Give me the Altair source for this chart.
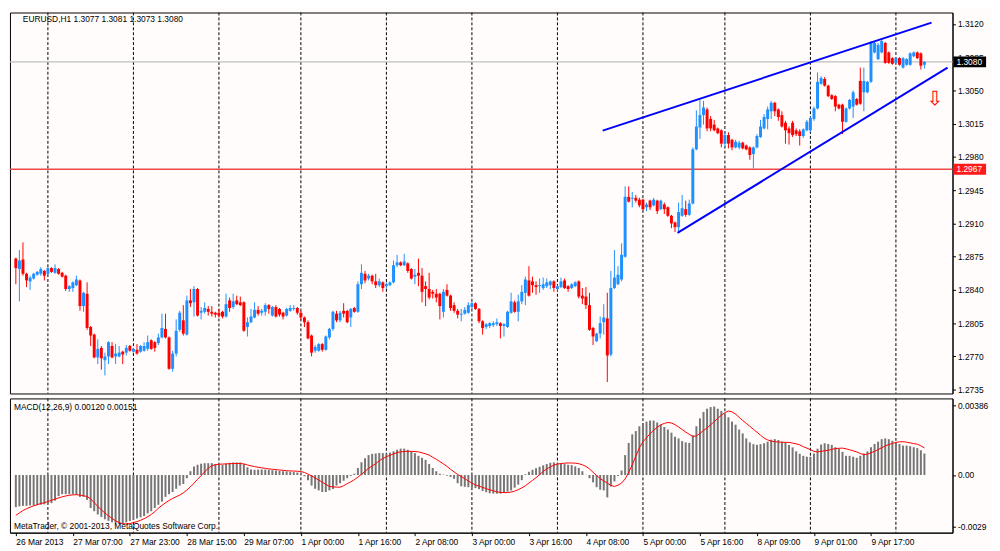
import altair as alt
import pandas as pd

# ---------------- data (EURUSD H1, prices in pips = 1e-4) ----------------
open_pips = [
12873,12862,12872,12857,12849,12852,12856,12857,12860,12857,
12863,12858,12862,12858,12855,12841,12842,12845,12850,12823,
12836,12801,12793,12769,12779,12766,12770,12781,12770,12770,
12775,12774,12781,12775,12777,12775,12776,12778,12787,12785,
12784,12790,12799,12790,12757,12773,12798,12808,12793,12829,
12827,12841,12816,12817,12820,12817,12816,12816,12817,12812,
12829,12822,12829,12827,12827,12801,12806,12811,12819,12816,
12817,12824,12813,12822,12820,12816,12813,12818,12820,12821,
12816,12811,12806,12792,12776,12776,12783,12777,12790,12799,
12815,12808,12818,12818,12811,12821,12817,12846,12857,12852,
12855,12849,12845,12848,12844,12845,12848,12866,12869,12866,
12868,12862,12854,12858,12855,12844,12841,12838,12836,12836,
12817,12840,12834,12824,12818,12814,12815,12816,12822,12826,
12820,12807,12801,12802,12803,12804,12805,12802,12801,12816,
12827,12817,12828,12837,12850,12849,12845,12844,12842,12844,
12845,12849,12841,12843,12850,12844,12842,12844,12849,12834,
12833,12824,12800,12786,12794,12806,12810,12772,12842,12846,
12851,12875,12938,12936,12937,12935,12935,12927,12934,12929,
12934,12925,12930,12927,12918,12911,12906,12918,12925,12919,
12931,12988,13011,13024,13030,13020,13014,13010,13008,12994,
13003,12998,12990,12990,12995,12992,12990,12983,12990,13001,
13010,13020,13028,13037,13030,13024,13016,13010,13016,13008,
13007,13002,13008,13008,13020,13031,13057,13062,13055,13045,
13044,13035,13035,13017,13031,13033,13041,13060,13048,13048,
13059,13090,13083,13090,13100,13090,13084,13079,13084,13074,
13077,13077,13086,13090,13089,13077]
high_pips = [
12874,12882,12890,12858,12855,12858,12860,12864,12861,12864,
12864,12867,12863,12859,12856,12845,12849,12855,12851,12838,
12848,12802,12794,12788,12781,12774,12786,12785,12783,12781,
12776,12782,12782,12779,12783,12782,12785,12792,12788,12786,
12794,12815,12815,12791,12776,12809,12818,12824,12834,12841,
12844,12842,12822,12827,12823,12823,12817,12820,12818,12836,
12832,12836,12834,12833,12828,12811,12820,12827,12823,12820,
12826,12825,12823,12824,12821,12817,12821,12824,12824,12822,
12818,12812,12808,12793,12782,12784,12784,12792,12800,12818,
12818,12818,12826,12819,12821,12822,12849,12867,12860,12857,
12856,12857,12852,12849,12848,12849,12871,12877,12870,12878,
12869,12863,12862,12873,12863,12849,12858,12840,12841,12837,
12841,12846,12835,12827,12820,12820,12822,12827,12828,12827,
12821,12808,12805,12806,12807,12810,12806,12805,12818,12837,
12829,12835,12845,12854,12865,12854,12849,12852,12853,12852,
12850,12850,12845,12853,12852,12845,12847,12849,12850,12842,
12843,12837,12801,12795,12812,12825,12837,12860,12882,12865,
12889,12949,12949,12943,12940,12937,12936,12932,12935,12937,
12935,12935,12932,12928,12919,12912,12932,12940,12934,12935,
12990,13029,13040,13039,13032,13023,13019,13011,13009,13007,
13006,12999,12998,12997,12996,12993,12991,12991,13004,13019,
13025,13033,13039,13038,13031,13028,13018,13012,13018,13010,
13009,13010,13019,13022,13033,13069,13065,13064,13056,13046,
13045,13036,13036,13032,13041,13050,13042,13074,13074,13060,
13102,13101,13100,13104,13101,13091,13085,13085,13085,13085,
13084,13090,13091,13091,13090,13081]
low_pips = [
12846,12828,12855,12843,12840,12851,12855,12855,12850,12856,
12858,12857,12856,12853,12839,12838,12838,12844,12818,12817,
12798,12781,12768,12762,12756,12750,12762,12768,12762,12769,
12762,12771,12775,12774,12772,12774,12775,12776,12777,12775,
12782,12789,12789,12756,12754,12770,12796,12792,12792,12822,
12812,12812,12809,12815,12813,12812,12811,12811,12810,12811,
12817,12820,12824,12823,12796,12791,12805,12810,12813,12813,
12813,12815,12812,12811,12812,12809,12812,12817,12818,12814,
12808,12801,12788,12770,12774,12775,12775,12776,12788,12797,
12806,12806,12811,12805,12801,12816,12816,12841,12847,12850,
12846,12842,12843,12838,12841,12844,12847,12864,12865,12865,
12858,12851,12846,12844,12827,12823,12830,12831,12827,12809,
12811,12833,12818,12816,12810,12807,12814,12815,12820,12819,
12805,12793,12799,12800,12801,12802,12789,12791,12800,12815,
12816,12807,12825,12824,12833,12837,12835,12837,12840,12842,
12841,12838,12839,12842,12841,12838,12841,12843,12831,12825,
12820,12797,12782,12785,12789,12793,12743,12770,12841,12845,
12849,12874,12932,12927,12932,12927,12924,12923,12924,12928,
12920,12924,12920,12917,12905,12901,12901,12917,12917,12918,
12930,12987,12999,13014,13007,13007,13007,13004,12990,12990,
12989,12987,12989,12988,12988,12987,12977,12968,12989,13000,
13009,13009,13020,13023,13018,13011,12994,12993,13001,13002,
12992,13000,13007,13006,13018,13030,13056,13054,13043,13040,
13028,13030,13004,13016,13030,13021,13034,13035,13028,13047,
13058,13089,13082,13089,13078,13078,13077,13078,13076,13073,
13076,13076,13085,13083,13072,13073]
close_pips = [
12863,12871,12857,12850,12853,12857,12859,12862,12855,12863,
12859,12863,12857,12854,12841,12844,12848,12851,12823,12837,
12800,12792,12769,12778,12768,12770,12785,12769,12773,12774,
12772,12779,12776,12778,12773,12781,12781,12785,12778,12779,
12790,12800,12790,12757,12773,12797,12816,12794,12829,12826,
12841,12813,12818,12821,12817,12815,12814,12813,12812,12825,
12821,12828,12825,12824,12797,12806,12812,12819,12815,12818,
12824,12820,12822,12812,12814,12812,12820,12821,12821,12816,
12811,12806,12789,12774,12780,12783,12777,12791,12799,12817,
12808,12816,12815,12806,12820,12817,12846,12858,12850,12855,
12849,12845,12849,12842,12846,12848,12866,12869,12866,12870,
12860,12852,12856,12855,12838,12841,12832,12836,12832,12823,
12838,12834,12821,12818,12814,12815,12819,12824,12826,12820,
12807,12800,12804,12805,12805,12806,12802,12804,12817,12828,
12817,12828,12838,12851,12834,12845,12843,12845,12846,12848,
12849,12842,12844,12849,12842,12841,12846,12848,12833,12831,
12824,12798,12791,12794,12805,12811,12771,12842,12853,12856,
12877,12938,12933,12937,12934,12929,12925,12930,12927,12935,
12923,12934,12925,12918,12910,12906,12922,12926,12919,12931,
12988,13012,13024,13032,13010,13010,13008,13005,12994,13003,
12994,12990,12996,12995,12989,12988,12982,12990,13002,13012,
13022,13030,13037,13028,13022,13012,13008,13005,13003,13004,
13002,13009,13017,13021,13031,13059,13063,13055,13044,13041,
13033,13031,13017,13031,13040,13048,13035,13036,13060,13059,
13100,13100,13098,13102,13079,13079,13078,13084,13077,13084,
13083,13089,13090,13084,13076,13080]

# MACD(12,26,9) in points (1e-5)
macd_main_pts = [
-179,-175,-172,-172,-170,-170,-168,-166,-164,-163,
-157,-143,-118,-107,-107,-107,-107,-111,-122,-122,
-139,-184,-202,-220,-234,-247,-256,-264,-270,-273,
-273,-264,-257,-250,-243,-236,-229,-214,-202,-184,
-166,-148,-122,-107,-95,-77,-59,-50,-18,21,
48,57,63,66,66,66,61,57,57,63,
68,70,70,70,61,43,30,29,30,30,
30,29,27,25,23,21,20,18,16,14,
11,-7,-29,-59,-77,-86,-95,-95,-86,-78,
-59,-46,-32,-18,-5,7,39,71,93,111,
118,120,123,122,120,125,132,141,147,147,
141,132,122,107,96,84,61,39,21,7,
2,-4,-11,-21,-46,-63,-66,-68,-70,-73,
-79,-89,-96,-102,-104,-104,-104,-100,-93,-86,
-71,-54,-29,4,18,29,38,46,54,61,
68,70,66,61,61,57,55,48,39,21,
1,-18,-41,-68,-82,-86,-125,-64,-36,-5,
25,111,179,227,245,272,290,298,304,304,
293,281,268,254,236,214,204,189,182,179,
222,272,316,352,370,379,382,370,357,340,
322,298,281,254,232,204,182,172,168,172,
177,186,197,200,195,186,182,168,154,132,
118,107,102,102,120,147,170,177,173,168,
155,147,129,107,107,102,96,107,120,132,
155,173,186,200,204,200,191,182,173,164,
164,161,155,150,138,120]
macd_signal_pts = [
-225,-212,-198,-188,-180,-172,-166,-159,-155,-148,
-141,-135,-128,-122,-117,-113,-111,-110,-112,-116,
-120,-133,-155,-175,-195,-212,-228,-242,-256,-266,
-272,-273,-271,-266,-260,-253,-244,-233,-220,-205,
-185,-170,-155,-142,-131,-121,-112,-100,-84,-66,
-46,-24,-4,18,38,52,57,60,61,62,
63,64,64,64,62,56,51,47,43,40,
37,34,32,30,28,26,24,23,22,21,
19,14,5,-5,-17,-28,-40,-52,-64,-66,
-68,-68,-60,-48,-38,-26,-12,4,20,38,
50,63,80,92,102,110,118,125,129,131,
132,132,131,129,124,118,111,99,88,75,
62,48,32,17,3,-9,-20,-34,-45,-56,
-62,-69,-76,-83,-88,-94,-97,-98,-98,-95,
-90,-82,-72,-60,-45,-30,-15,2,20,34,
45,55,61,64,66,67,67,66,63,57,
48,34,15,-3,-20,-33,-45,-58,-64,-57,
-45,-22,15,57,105,152,185,208,230,250,
266,280,288,293,290,281,268,254,240,227,
215,218,232,248,263,280,298,316,334,348,
357,352,340,322,304,288,272,255,239,222,
206,196,189,186,184,183,182,182,178,174,
168,158,150,141,132,129,132,135,138,143,
147,149,150,146,141,135,129,120,114,116,
124,132,142,152,162,170,176,182,185,186,
183,179,175,172,163,151]

tick_index = [0, 16, 32, 48, 64, 80, 96, 112, 128, 144, 160, 176, 192, 208, 224, 240]
tick_labels = ["26 Mar 2013", "27 Mar 07:00", "27 Mar 23:00", "28 Mar 15:00",
               "29 Mar 07:00", "1 Apr 00:00", "1 Apr 16:00", "2 Apr 08:00",
               "3 Apr 00:00", "3 Apr 16:00", "4 Apr 08:00", "5 Apr 00:00",
               "5 Apr 16:00", "8 Apr 09:00", "9 Apr 01:00", "9 Apr 17:00"]
day_grid_index = [9, 33, 57, 80, 104, 128, 152, 176, 199, 223, 247]
price_ticks = [1.3120, 1.3085, 1.3050, 1.3015, 1.2980, 1.2945, 1.2910,
               1.2875, 1.2840, 1.2805, 1.2770, 1.2735]
macd_ticks = [0.00386, 0.0, -0.0029]
macd_tick_labels = ["0.00386", "0.00", "-0.0029"]
bid_price = 1.3080
level_price = 1.2967
trend_id = ["upper", "upper", "lower", "lower"]
trend_i = [164.7, 257.0, 185.7, 261.5]
trend_p = [1.30077, 1.31213, 1.29000, 1.30740]
arrow_i = [257.9]
arrow_p = [1.30407]

assert len(open_pips) == len(high_pips) == len(low_pips) == len(close_pips) == 256
assert len(macd_main_pts) == 256 and len(macd_signal_pts) == 256

# ---------------- layout / style ----------------
FONT = "Liberation Sans"
FS = 8.5
BG = "#FFFCFB"
W, H1, H2 = 955, 386, 136
X_DOMAIN = [-0.26, 261.5]

N = len(close_pips)
df = pd.DataFrame({
    "i": list(range(N)),
    "o": [v / 1e4 for v in open_pips],
    "h": [v / 1e4 for v in high_pips],
    "l": [v / 1e4 for v in low_pips],
    "c": [v / 1e4 for v in close_pips],
})
df["dir"] = ["up" if c >= o else "down" for o, c in zip(df["o"], df["c"])]

mdf = pd.DataFrame({
    "i": list(range(N)),
    "m": [v / 1e5 for v in macd_main_pts],
    "s": [v / 1e5 for v in macd_signal_pts],
})

grid_df = pd.DataFrame({"i": day_grid_index})

xscale = alt.Scale(domain=X_DOMAIN, nice=False, zero=False)
pscale = alt.Scale(domain=[1.2731, 1.3132], nice=False, zero=False)
mscale = alt.Scale(domain=[-0.003217, 0.004273], nice=False, zero=False)

paxis = alt.Axis(orient="right", values=price_ticks, format=".4f", tickSize=3,
                 labelPadding=2, title=None, grid=False, labelOverlap=False,
                 labelFont=FONT, labelFontSize=FS, labelColor="black",
                 tickColor="black", domainColor="black")
vals_js = ",".join(repr(v) for v in macd_ticks)
labs_js = ",".join("'" + s + "'" for s in macd_tick_labels)
maxis = alt.Axis(orient="right", values=macd_ticks, tickSize=3, labelPadding=2,
                 title=None, grid=False, labelOverlap=False,
                 labelExpr=f"[{labs_js}][indexof([{vals_js}], datum.value)]",
                 labelFont=FONT, labelFontSize=FS, labelColor="black",
                 tickColor="black", domainColor="black")
tvals_js = ",".join(str(v) for v in tick_index)
tlabs_js = ",".join("'" + s + "'" for s in tick_labels)
xaxis = alt.Axis(values=tick_index, title=None, grid=False, tickSize=3,
                 labelPadding=2, labelAlign="left", labelOverlap=False,
                 labelFlush=False, labelBound=False,
                 labelExpr=f"[{tlabs_js}][indexof([{tvals_js}], datum.value)]",
                 labelFont=FONT, labelFontSize=FS, labelColor="black",
                 tickColor="black", domainColor="black")

def PX(f):
    return alt.X(f, scale=xscale, axis=None)

def PY(f):
    return alt.Y(f, scale=pscale, axis=paxis)

color = alt.Color("dir:N", scale=alt.Scale(domain=["up", "down"],
                                           range=["#1E90FF", "#FF0000"]), legend=None)

# ---------------- price panel ----------------
grid_p = alt.Chart(grid_df).mark_rule(color="black", strokeDash=[3, 2], strokeWidth=1).encode(
    x=PX("i:Q"))

levels_df = pd.DataFrame({"p": [bid_price, level_price], "col": ["#C0C0C0", "#F04848"]})
levels = alt.Chart(levels_df).mark_rule(strokeWidth=1.4).encode(
    y=PY("p:Q"), color=alt.Color("col:N", scale=None))

wicks = alt.Chart(df).mark_rule(strokeWidth=1).encode(
    x=PX("i:Q"), y=PY("l:Q"), y2="h:Q", color=color)
bodies = alt.Chart(df).mark_bar(size=3).encode(
    x=PX("i:Q"), y=PY("o:Q"), y2="c:Q", color=color)

trend_df = pd.DataFrame({"id": trend_id, "i": trend_i, "p": trend_p})
trends = alt.Chart(trend_df).mark_line(color="#0000FF", strokeWidth=2, clip=True).encode(
    x=PX("i:Q"), y=PY("p:Q"), detail="id:N")

arrow_df = pd.DataFrame({"i": arrow_i, "p": arrow_p, "t": ["⇩"]})
arrow = alt.Chart(arrow_df).mark_text(color="#FF0000", fontSize=20, font="DejaVu Sans",
                                      baseline="middle", align="center").encode(
    x=PX("i:Q"), y=PY("p:Q"), text="t:N")

box_df = pd.DataFrame({"p": [bid_price, level_price],
                       "lab": [f"{bid_price:.4f}", f"{level_price:.4f}"],
                       "col": ["#000000", "#FF1A1A"]})
boxes = alt.Chart(box_df).mark_rule(strokeWidth=11).encode(
    x=alt.value(W + 1), x2=alt.value(W + 34), y=PY("p:Q"),
    color=alt.Color("col:N", scale=None))
box_text = alt.Chart(box_df).mark_text(align="left", baseline="middle", color="white",
                                       font=FONT, fontSize=FS).encode(
    x=alt.value(W + 4), y=PY("p:Q"), text="lab:N")

last = df.iloc[-1]
header_df = pd.DataFrame({"t": [f"EURUSD,H1  {last.o:.4f} {last.h:.4f} {last.l:.4f} {last.c:.4f}"]})
header = alt.Chart(header_df).mark_text(align="left", baseline="middle", color="black",
                                        font=FONT, fontSize=FS).encode(
    x=alt.value(13), y=alt.value(7), text="t:N")

price = alt.layer(grid_p, levels, wicks, bodies, trends, arrow, boxes, box_text, header).properties(
    width=W, height=H1)

# ---------------- MACD panel ----------------
def MX(f):
    return alt.X(f, scale=xscale, axis=xaxis)

def MY(f):
    return alt.Y(f, scale=mscale, axis=maxis)

grid_m = alt.Chart(grid_df).mark_rule(color="black", strokeDash=[3, 2], strokeWidth=1).encode(
    x=MX("i:Q"))
hist = alt.Chart(mdf).mark_bar(size=2, color="#767676").encode(
    x=MX("i:Q"), y=MY("m:Q"), y2=alt.datum(0))
signal = alt.Chart(mdf).mark_line(color="#FF0000", strokeWidth=1).encode(
    x=MX("i:Q"), y=MY("s:Q"))

mlast = mdf.iloc[-1]
mlabel_df = pd.DataFrame({"t": [f"MACD(12,26,9) {mlast.m:.5f} {mlast.s:.5f}"]})
mlabel = alt.Chart(mlabel_df).mark_text(align="left", baseline="middle", color="black",
                                        font=FONT, fontSize=FS).encode(
    x=alt.value(4), y=alt.value(9), text="t:N")
copy_df = pd.DataFrame({"t": ["MetaTrader, © 2001-2013, MetaQuotes Software Corp."]})
copyright_ = alt.Chart(copy_df).mark_text(align="left", baseline="middle", color="black",
                                          font=FONT, fontSize=FS).encode(
    x=alt.value(4), y=alt.value(H2 - 7), text="t:N")

macd = alt.layer(grid_m, hist, signal, mlabel, copyright_).properties(width=W, height=H2)

chart = alt.vconcat(price, macd, spacing=2,
                    padding={"left": 0, "top": 0, "right": 0, "bottom": 0}).configure(
    background=BG).configure_view(stroke="black", strokeWidth=1)

chart.save("out.html", embed_options={"renderer": "svg", "actions": False})
